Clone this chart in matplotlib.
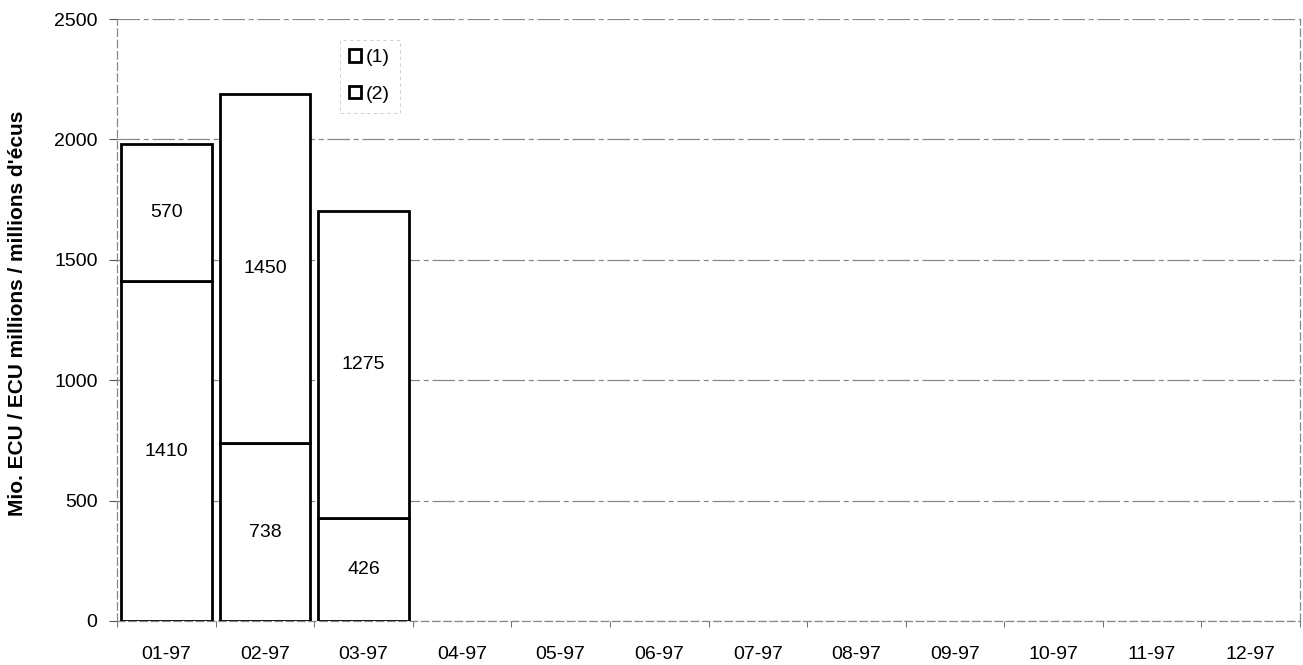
import matplotlib
matplotlib.use("Agg")
import matplotlib.pyplot as plt
from matplotlib.patches import Patch
import numpy as np

plt.rcParams['font.family'] = ['Liberation Sans', 'DejaVu Sans']

categories = ["01-97", "02-97", "03-97", "04-97", "05-97", "06-97",
              "07-97", "08-97", "09-97", "10-97", "11-97", "12-97"]
series2 = [1410, 738, 426]   # bottom segments
series1 = [570, 1450, 1275]  # top segments
yticks = [0, 500, 1000, 1500, 2000, 2500]
ylabel = "Mio. ECU / ECU millions / millions d'écus"

fig = plt.figure(figsize=(13.03, 6.65), dpi=100)
ax = fig.add_axes([0.0898, 0.0662, 0.9079, 0.9052])

x = np.arange(len(categories))
n = len(series1)
w = 0.92
ax.bar(x[:n], series2, width=w, color='white', edgecolor='black', linewidth=2.0, zorder=3)
ax.bar(x[:n], series1, width=w, bottom=series2, color='white', edgecolor='black', linewidth=2.0, zorder=3)

fs = 14
for i in range(n):
    ax.text(x[i], series2[i] / 2, str(series2[i]), ha='center', va='center', fontsize=fs, zorder=4)
    ax.text(x[i], series2[i] + series1[i] / 2, str(series1[i]), ha='center', va='center', fontsize=fs, zorder=4)

ax.set_xlim(-0.5, len(categories) - 0.5)
ax.set_ylim(0, 2500)
ax.set_yticks(yticks)
ax.set_yticklabels([str(v) for v in yticks], fontsize=fs)
ax.set_xticks(x)
ax.set_xticklabels(categories, fontsize=fs)
ax.set_xticks(np.arange(-0.5, len(categories), 1), minor=True)
ax.tick_params(axis='x', which='major', length=0, pad=18)
ax.tick_params(axis='x', which='minor', length=4, color='#555555')
ax.tick_params(axis='y', length=6, color='#555555', pad=8)

ax.grid(axis='y', color='#888888', linewidth=0.9, linestyle=(0, (18, 3, 4, 3)), zorder=0)
ax.spines['top'].set_visible(False)
for side in ['left', 'right', 'bottom']:
    ax.spines[side].set_color('#888888')
    ax.spines[side].set_linewidth(0.9)
    ax.spines[side].set_linestyle((0, (6, 3)))

fig.text(18 / 1303, 1 - 313 / 665, ylabel, rotation=90, ha='center', va='center',
         fontsize=15, fontweight='bold')

handles = [Patch(facecolor='white', edgecolor='black', linewidth=2.0),
           Patch(facecolor='white', edgecolor='black', linewidth=2.0)]
leg = ax.legend(handles, ["(1)", "(2)"], loc='upper left', bbox_to_anchor=(0.18, 0.982),
                fontsize=fs, frameon=True, handlelength=0.6, handleheight=0.6,
                handletextpad=0.25, borderpad=0.5, labelspacing=1.0, fancybox=False)
leg.get_frame().set_edgecolor('#bbbbbb')
leg.get_frame().set_linewidth(0.6)
leg.get_frame().set_linestyle((0, (4, 4)))

fig.savefig("out.png", dpi=100)
